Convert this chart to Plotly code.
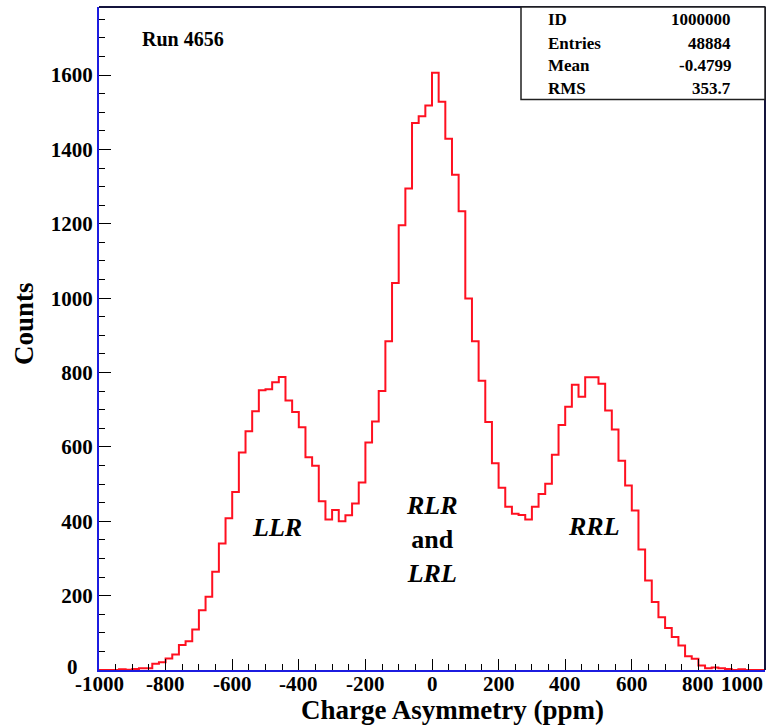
import numpy as np
import plotly.graph_objects as go

# ---- data: histogram of charge asymmetry, 100 bins of 20 ppm from -1000 to 1000 ----
x_min, x_max, n_bins = -1000, 1000, 100
counts = [
    0, 0, 0, 2, 1, 3, 5, 5, 17, 21,
    31, 42, 67, 77, 109, 161, 197, 264, 340, 408,
    479, 585, 642, 696, 752, 755, 774, 788, 725, 694,
    653, 572, 549, 454, 405, 430, 400, 416, 448, 504,
    612, 668, 750, 884, 1041, 1196, 1295, 1471, 1489, 1518,
    1606, 1528, 1429, 1332, 1234, 999, 884, 778, 667, 556,
    490, 439, 420, 417, 405, 439, 473, 501, 579, 659,
    708, 767, 735, 787, 787, 770, 698, 647, 563, 496,
    429, 324, 241, 183, 142, 113, 89, 66, 37, 30,
    12, 5, 7, 5, 3, 0, 2, 0, 0, 0,
]
x_tick_vals = [-1000, -800, -600, -400, -200, 0, 200, 400, 600, 800, 1000]
y_tick_vals = [0, 200, 400, 600, 800, 1000, 1200, 1400, 1600]
stats_labels = ["ID", "Entries", "Mean", "RMS"]
stats_values = ["1000000", "48884", "-0.4799", "353.7"]
run_label = "Run 4656"
peak_labels = ["<i>LLR</i>", "<i>RLR</i><br>and<br><i>LRL</i>", "<i>RRL</i>"]
peak_pos = [(-465, 383), (0, 351), (486, 386)]

# ---- geometry ----
W, H = 776, 725
ML, MR, MT, MB = 99, 11, 7, 55
PW, PH = W - ML - MR, H - MT - MB
y_top = 1783

def px(xp):
    return (xp - ML) / PW

def py(yp):
    return (H - MB - yp) / PH

edges = np.linspace(x_min, x_max, n_bins + 1)
xs = list(edges)
ys = list(counts) + [counts[-1]]

SERIF = "Liberation Serif, Times New Roman, serif"
BLUE = "#1c1ce0"
DARK = "#14143c"
TICKFONT = dict(family=SERIF, size=21, weight="bold", color="black")

fig = go.Figure()
fig.add_trace(go.Scatter(
    x=xs, y=ys, mode="lines", line=dict(color="#ff1020", width=2, shape="hv"),
    hoverinfo="skip", showlegend=False,
))

fig.update_layout(
    width=W, height=H,
    margin=dict(l=ML, r=MR, t=MT, b=MB, pad=0),
    paper_bgcolor="white", plot_bgcolor="white",
    font=dict(family=SERIF, color="black"),
    showlegend=False,
)
fig.update_xaxes(
    range=[x_min, x_max], showgrid=False, zeroline=False,
    showline=True, linecolor=BLUE, linewidth=2,
    tickmode="array", tickvals=x_tick_vals, showticklabels=False,
    ticks="inside", ticklen=11, tickwidth=1, tickcolor="black",
    minor=dict(ticks="inside", ticklen=6, dtick=50, tick0=0, tickcolor="black", tickwidth=1),
    automargin=False,
)
fig.update_yaxes(
    range=[0, y_top], showgrid=False, zeroline=False,
    showline=True, linecolor=BLUE, linewidth=2,
    tickmode="array", tickvals=y_tick_vals,
    ticktext=["" if v == 0 else str(v) for v in y_tick_vals],
    ticks="inside", ticklen=12, tickwidth=1, tickcolor="black",
    minor=dict(ticks="inside", ticklen=6, dtick=50, tick0=0, tickcolor="black", tickwidth=1),
    tickfont=TICKFONT,
    automargin=False,
)

# top and right frame
fig.add_shape(type="line", xref="paper", yref="paper", x0=0, x1=1, y0=1, y1=1,
              line=dict(color=DARK, width=2))
fig.add_shape(type="line", xref="paper", yref="paper", x0=1, x1=1, y0=0, y1=1,
              line=dict(color=DARK, width=2))

# x tick labels (ROOT style: last one right-aligned at the axis end)
for v in x_tick_vals:
    last = v == x_tick_vals[-1]
    fig.add_annotation(xref="x", yref="paper", x=v, y=py(684), text=str(v),
                       showarrow=False, xanchor="right" if last else "center",
                       yanchor="middle", font=TICKFONT)
# y "0" label, sitting just left of / above the x labels
fig.add_annotation(xref="paper", yref="paper", x=px(80), y=py(667), text=str(y_tick_vals[0]),
                   showarrow=False, xanchor="right", yanchor="middle", font=TICKFONT)

# axis titles
fig.add_annotation(xref="paper", yref="paper", x=px(452), y=py(710),
                   text="Charge Asymmetry (ppm)", showarrow=False,
                   xanchor="center", yanchor="middle",
                   font=dict(family=SERIF, size=27, weight="bold", color="black"))
fig.add_annotation(xref="paper", yref="paper", x=px(24), y=py(324),
                   text="Counts", showarrow=False, textangle=-90,
                   xanchor="center", yanchor="middle",
                   font=dict(family=SERIF, size=27, weight="bold", color="black"))

# stats box
fig.add_shape(type="rect", xref="paper", yref="paper",
              x0=px(521), x1=1, y0=py(99.5), y1=1,
              line=dict(color="#202020", width=1.5), fillcolor="white", layer="above")
row_y = [19, 43, 65, 88]
for lab, val, ry in zip(stats_labels, stats_values, row_y):
    fig.add_annotation(xref="paper", yref="paper", x=px(546), y=py(ry), text=lab,
                       showarrow=False, xanchor="left", yanchor="middle",
                       font=dict(family=SERIF, size=17, weight="bold", color="black"))
    fig.add_annotation(xref="paper", yref="paper", x=px(733), y=py(ry), text=val,
                       showarrow=False, xanchor="right", yanchor="middle",
                       font=dict(family=SERIF, size=17, weight="bold", color="black"))

# run label
fig.add_annotation(xref="paper", yref="paper", x=px(140), y=py(39), text=run_label,
                   showarrow=False, xanchor="left", yanchor="middle",
                   font=dict(family=SERIF, size=20, weight="bold", color="black"))

# peak labels
for txt, (xv, yv) in zip(peak_labels, peak_pos):
    fig.add_annotation(x=xv, y=yv, xref="x", yref="y", text=txt, showarrow=False,
                       xanchor="center", yanchor="middle", align="center",
                       font=dict(family=SERIF, size=26, weight="bold", color="black"))

fig.write_html("out.html",
               config={"displayModeBar": False},
               post_script="document.body.style.margin='0';document.body.style.padding='0';")
